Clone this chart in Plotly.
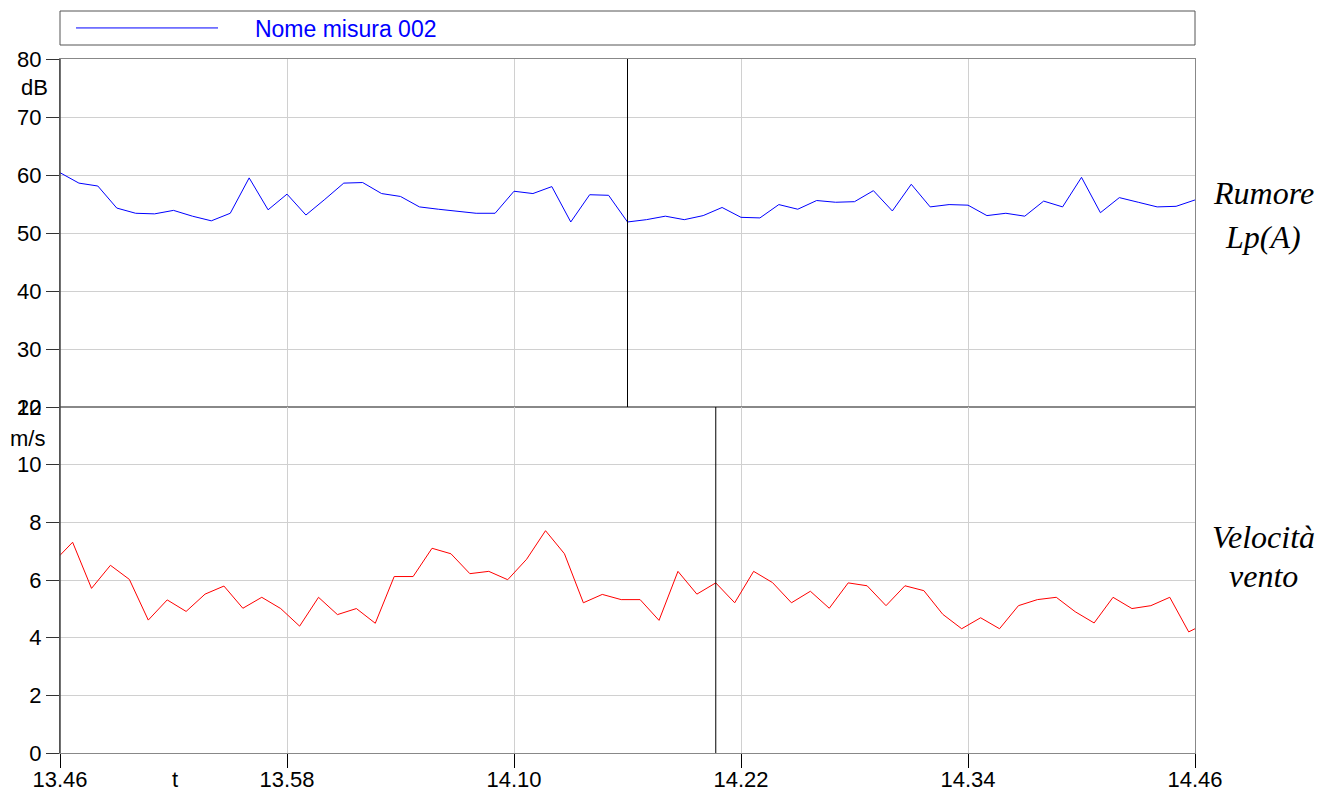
import pandas as pd
import plotly.graph_objects as go
from plotly.subplots import make_subplots

# ---- data -------------------------------------------------------------
DAY = "2024-01-01"
x_start = f"{DAY} 13:46:00"
x_end = f"{DAY} 14:46:00"

# noise level Lp(A), one sample per minute from 13:46 to 14:46
noise_times = pd.date_range(f"{DAY} 13:46:00", periods=61, freq="1min")
noise_db = [60.4, 58.6, 58.1, 54.3, 53.4, 53.3, 53.9, 52.9, 52.1, 53.4,
            59.5, 54.0, 56.7, 53.1, 55.8, 58.6, 58.7, 56.8, 56.3, 54.5,
            54.1, 53.7, 53.4, 53.4, 57.2, 56.8, 58.0, 51.9, 56.6, 56.5,
            51.9, 52.3, 52.9, 52.3, 53.0, 54.4, 52.7, 52.6, 54.9, 54.1,
            55.6, 55.3, 55.4, 57.3, 53.8, 58.4, 54.5, 54.9, 54.8, 53.0,
            53.4, 52.9, 55.5, 54.5, 59.6, 53.5, 56.1, 55.3, 54.5, 54.6,
            55.7]

# wind speed, one sample per minute, sampled at :40 s (13:45:40 .. 14:46:40)
wind_times = pd.date_range(f"{DAY} 13:45:40", periods=62, freq="1min")
wind_ms = [6.63, 7.31, 5.71, 6.51, 6.02, 4.61, 5.31, 4.91, 5.51, 5.79,
           5.02, 5.40, 5.01, 4.40, 5.40, 4.80, 5.01, 4.50, 6.12, 6.12,
           7.10, 6.91, 6.22, 6.30, 6.01, 6.72, 7.71, 6.91, 5.21, 5.50,
           5.32, 5.32, 4.60, 6.30, 5.51, 5.90, 5.21, 6.30, 5.91, 5.21,
           5.61, 5.02, 5.90, 5.80, 5.11, 5.80, 5.63, 4.81, 4.31, 4.69,
           4.31, 5.11, 5.32, 5.40, 4.90, 4.51, 5.40, 5.01, 5.11, 5.40,
           4.20, 4.53]

x_tick_vals = [f"{DAY} 13:46", f"{DAY} 13:58", f"{DAY} 14:10",
               f"{DAY} 14:22", f"{DAY} 14:34", f"{DAY} 14:46"]
x_tick_text = ["13.46", "13.58", "14.10", "14.22", "14.34", "14.46"]

noise_ticks = [20, 30, 40, 50, 60, 70, 80]
wind_ticks = [0, 2, 4, 6, 8, 10, 12]

cursor_noise = f"{DAY} 14:16:00"
cursor_wind = f"{DAY} 14:20:40"

series_name = "Nome misura 002"

# ---- figure -----------------------------------------------------------
OFF = 8  # page body margin of the html page
W, H = 1337 - OFF, 794 - OFF
ML = 60 - OFF
MT = 59 - OFF
plot_w = 1195 - 60
plot_h = 753 - 59
MR = W - ML - plot_w
MB = H - MT - plot_h
split = 346 / plot_h


def px(rx):  # reference page x -> paper x
    return (rx - OFF - ML) / plot_w


def py(ry):  # reference page y -> paper y
    return 1 - (ry - OFF - MT) / plot_h


fig = make_subplots(rows=2, cols=1, shared_xaxes=True, vertical_spacing=0,
                    row_heights=[1 - split, split])

fig.add_trace(go.Scatter(x=noise_times, y=noise_db, mode="lines",
                         line=dict(color="#0000ff", width=1),
                         name="\u00a0" * 5 + series_name, showlegend=True),
              row=1, col=1)
fig.add_trace(go.Scatter(x=wind_times, y=wind_ms, mode="lines",
                         line=dict(color="#ff0000", width=1),
                         name="Velocità vento", showlegend=False), row=2, col=1)

font_tick = dict(family="Liberation Sans, Arial, sans-serif", size=22, color="black")
grid = "#d0d0d0"

xcommon = dict(range=[x_start, x_end], tickvals=x_tick_vals, ticktext=x_tick_text,
               showgrid=True, gridcolor=grid, gridwidth=1, zeroline=False,
               showline=True, linecolor="#888888", linewidth=1, mirror=True,
               automargin=False)
fig.update_xaxes(**xcommon, row=1, col=1, showticklabels=False, ticks="")
fig.update_xaxes(**xcommon, row=2, col=1, ticks="outside", ticklen=14,
                 tickcolor="black", tickfont=font_tick, ticklabelstandoff=-7)

ycommon = dict(showgrid=True, gridcolor=grid, gridwidth=1, zeroline=False,
               showline=True, linecolor="#888888", linewidth=1, mirror=True,
               ticks="outside", ticklen=13, tickcolor="#333333", tickfont=font_tick,
               automargin=False)
fig.update_yaxes(**ycommon, range=[20, 80], tickvals=noise_ticks, row=1, col=1)
fig.update_yaxes(**ycommon, range=[0, 12], tickvals=wind_ticks, row=2, col=1)

# left axis darker line
fig.add_shape(type="line", xref="paper", yref="paper", x0=0, x1=0, y0=0, y1=1,
              line=dict(color="#444444", width=1.5))

# cursors
fig.add_shape(type="line", xref="x", yref="y domain", x0=cursor_noise, x1=cursor_noise,
              y0=0, y1=1, line=dict(color="black", width=1))
fig.add_shape(type="line", xref="x2", yref="y2 domain", x0=cursor_wind, x1=cursor_wind,
              y0=0, y1=1, line=dict(color="black", width=1))

# legend box
fig.add_shape(type="rect", xref="paper", yref="paper", x0=0, x1=1,
              y0=py(45), y1=py(11), line=dict(color="#555555", width=1),
              fillcolor="rgba(0,0,0,0)")

fig.update_layout(
    width=W, height=H,
    margin=dict(l=ML, r=MR, t=MT, b=MB, autoexpand=False),
    paper_bgcolor="white", plot_bgcolor="white",
    showlegend=True,
    legend=dict(x=px(71), y=py(28), xanchor="left", yanchor="middle",
                orientation="h", itemwidth=142,
                font=dict(family="Liberation Sans, Arial, sans-serif", size=23, color="#0000ff"),
                bgcolor="rgba(0,0,0,0)", borderwidth=0),
)

ann_font = dict(family="Liberation Sans, Arial, sans-serif", size=22, color="black")
serif = dict(family="Liberation Serif, Times New Roman, serif", size=32, color="black")
fig.add_annotation(text="dB", xref="paper", yref="paper", x=px(34), y=py(88),
                   showarrow=False, font=ann_font, xanchor="center", yanchor="middle")
fig.add_annotation(text="m/s", xref="paper", yref="paper", x=px(27), y=py(438),
                   showarrow=False, font=ann_font, xanchor="center", yanchor="middle")
fig.add_annotation(text="t", xref="paper", yref="paper", x=px(175), y=py(779),
                   showarrow=False, font=ann_font, xanchor="center", yanchor="middle")

for txt, ypx in [("Rumore", 193), ("Lp(A)", 237), ("Velocità", 537), ("vento", 576)]:
    fig.add_annotation(text=f"<i>{txt}</i>", xref="paper", yref="paper",
                       x=px(1263), y=py(ypx), showarrow=False,
                       font=serif, xanchor="center", yanchor="middle")

fig.write_html("out.html")
